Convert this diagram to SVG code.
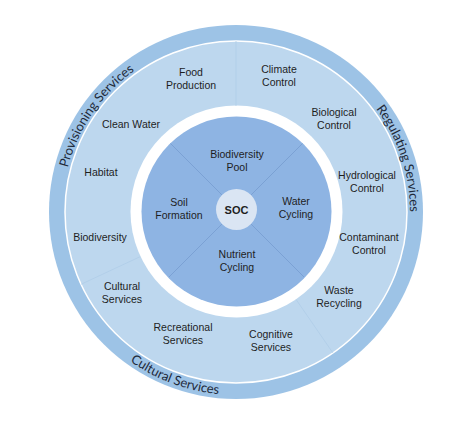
<svg xmlns="http://www.w3.org/2000/svg" width="474" height="437" viewBox="0 0 474 437">
<style>
.lbl{font-family:"Liberation Sans",Arial,sans-serif;font-size:10.5px;fill:#1e1e1e;text-anchor:middle}
.cat{font-family:Lato,"Open Sans",sans-serif;font-size:13px;fill:#1f2a3a}
.div{stroke:#aecbe6;stroke-width:0.7;fill:none}
.x{stroke:#7399cd;stroke-width:0.7}
</style>
<defs>
<path id="pProv" d="M 62.8 228.7 A 174 174 0 0 1 189.5 44.3"/>
<path id="pReg" d="M 327.7 64.1 A 174 174 0 0 1 397.6 276.6"/>
<path id="pCult" d="M 76.9 302.4 A 183 183 0 0 0 297.4 384.4"/>
</defs>
<rect width="474" height="437" fill="#fff"/>
<g id="rings">
<circle cx="236" cy="212" r="187" fill="#9DC3E6"/>
<circle cx="236" cy="212" r="171" fill="#BDD7EE" stroke="#fff" stroke-width="1.5"/>
<circle cx="236.5" cy="211.5" r="106" fill="#fff"/>
<circle cx="236.5" cy="211.5" r="95" fill="#8EB4E3"/>
</g>
<g id="connectors">
<line class="div" x1="236" y1="106" x2="236" y2="41"/>
<line class="div" x1="139.9" y1="256.8" x2="81" y2="284.3"/>
<line class="div" x1="296" y1="299.4" x2="332.9" y2="352.9"/>
<line class="x" x1="222" y1="195" x2="170.4" y2="143.4"/>
<line class="x" x1="251" y1="195" x2="302.6" y2="143.4"/>
<line class="x" x1="222" y1="224" x2="169" y2="277"/>
<line class="x" x1="251" y1="224" x2="304" y2="277"/>
</g>
<g id="cat-provisioning"><text class="cat"><textPath href="#pProv" startOffset="50%" text-anchor="middle">Provisioning Services</textPath></text></g>
<g id="cat-regulating"><text class="cat"><textPath href="#pReg" startOffset="50%" text-anchor="middle">Regulating Services</textPath></text></g>
<g id="cat-cultural"><text class="cat"><textPath href="#pCult" startOffset="50%" text-anchor="middle">Cultural Services</textPath></text></g>
<g id="food"><text class="lbl" x="191" y="75.8">Food<tspan x="191" dy="12.8">Production</tspan></text></g>
<g id="clean-water"><text class="lbl" x="131" y="127.8">Clean Water</text></g>
<g id="habitat"><text class="lbl" x="101" y="175.8">Habitat</text></g>
<g id="biodiversity"><text class="lbl" x="100" y="240.8">Biodiversity</text></g>
<g id="cultural-services"><text class="lbl" x="122" y="289.8">Cultural<tspan x="122" dy="12.8">Services</tspan></text></g>
<g id="recreational"><text class="lbl" x="183" y="330.8">Recreational<tspan x="183" dy="12.8">Services</tspan></text></g>
<g id="cognitive"><text class="lbl" x="271" y="337.8">Cognitive<tspan x="271" dy="12.8">Services</tspan></text></g>
<g id="waste"><text class="lbl" x="339" y="293.8">Waste<tspan x="339" dy="12.8">Recycling</tspan></text></g>
<g id="contaminant"><text class="lbl" x="369" y="240.8">Contaminant<tspan x="369" dy="12.8">Control</tspan></text></g>
<g id="hydrological"><text class="lbl" x="367" y="178.8">Hydrological<tspan x="367" dy="12.8">Control</tspan></text></g>
<g id="biological"><text class="lbl" x="334" y="115.8">Biological<tspan x="334" dy="12.8">Control</tspan></text></g>
<g id="climate"><text class="lbl" x="279" y="72.8">Climate<tspan x="279" dy="12.8">Control</tspan></text></g>
<g id="biodiversity-pool"><text class="lbl" x="237" y="157.8">Biodiversity<tspan x="237" dy="12.8">Pool</tspan></text></g>
<g id="soil-formation"><text class="lbl" x="179" y="205.8">Soil<tspan x="179" dy="12.8">Formation</tspan></text></g>
<g id="water-cycling"><text class="lbl" x="296" y="204.8">Water<tspan x="296" dy="12.8">Cycling</tspan></text></g>
<g id="nutrient-cycling"><text class="lbl" x="237" y="257.8">Nutrient<tspan x="237" dy="12.8">Cycling</tspan></text></g>
<g id="soc"><circle cx="236.5" cy="209.5" r="20.5" fill="#DAE5F3"/><text class="lbl" x="236.5" y="213.5" style="font-weight:bold;font-size:11px">SOC</text></g>
</svg>
